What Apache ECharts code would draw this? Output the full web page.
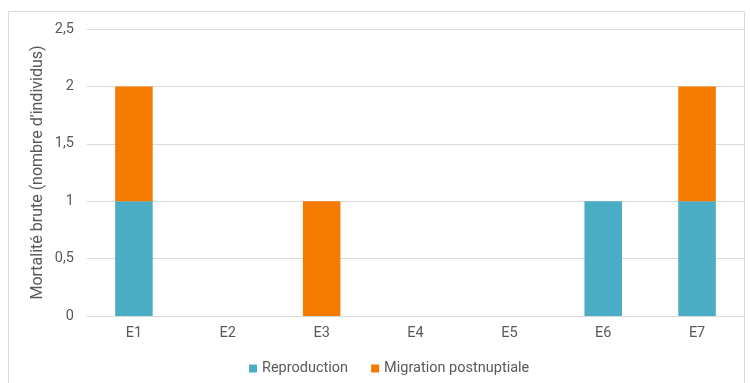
<!DOCTYPE html>
<html>
<head>
<meta charset="utf-8">
<script src="https://cdn.jsdelivr.net/npm/echarts@6/dist/echarts.min.js"></script>
<style>
  html, body { margin: 0; padding: 0; background: #ffffff; }
  #chart { width: 750px; height: 383px; }
</style>
</head>
<body>
<div id="chart"></div>
<script>
// Mortalité brute par éolienne, selon la période
const categories = ['E1', 'E2', 'E3', 'E4', 'E5', 'E6', 'E7'];
const reproduction = [1, 0, 0, 0, 0, 1, 1];
const migrationPostnuptiale = [1, 0, 1, 0, 0, 0, 1];
const yTicks = { min: 0, max: 2.5, interval: 0.5 };

const textColor = '#595959';
const fontFamily = 'Roboto, "Liberation Sans", sans-serif';

const chart = echarts.init(document.getElementById('chart'), null, { renderer: 'canvas' });

chart.setOption({
  animation: false,
  textStyle: { fontFamily: fontFamily },
  graphic: [{
    type: 'rect',
    shape: { x: 8.5, y: 11.5, width: 736, height: 380 },
    style: { fill: 'none', stroke: '#d9d9d9', lineWidth: 1 },
    silent: true,
    z: -1
  }],
  grid: { left: 87, right: 6, top: 29, bottom: 67 },
  legend: {
    top: 356,
    left: 244,
    itemWidth: 8,
    itemHeight: 8,
    itemGap: 23,
    icon: 'rect',
    textStyle: { color: textColor, fontSize: 14.5, fontFamily: fontFamily },
    data: ['Reproduction', 'Migration postnuptiale']
  },
  xAxis: {
    type: 'category',
    data: categories,
    axisLine: { lineStyle: { color: '#d9d9d9' } },
    axisTick: { show: false },
    axisLabel: { color: textColor, fontSize: 14.5, margin: 10 }
  },
  yAxis: {
    type: 'value',
    min: yTicks.min,
    max: yTicks.max,
    interval: yTicks.interval,
    name: "Mortalité brute (nombre d'individus)",
    nameLocation: 'middle',
    nameGap: 41,
    nameMoveOverlap: false,
    nameTextStyle: { color: textColor, fontSize: 16 },
    axisLine: { show: false },
    axisTick: { show: false },
    splitLine: { lineStyle: { color: '#d9d9d9' } },
    axisLabel: {
      color: textColor,
      fontSize: 14.5,
      margin: 13,
      formatter: v => String(v).replace('.', ',')
    }
  },
  series: [
    {
      name: 'Reproduction',
      type: 'bar',
      stack: 'total',
      barWidth: '40%',
      itemStyle: { color: '#4BACC6' },
      data: reproduction
    },
    {
      name: 'Migration postnuptiale',
      type: 'bar',
      stack: 'total',
      barWidth: '40%',
      itemStyle: { color: '#F57B00' },
      data: migrationPostnuptiale
    }
  ]
});
</script>
</body>
</html>
